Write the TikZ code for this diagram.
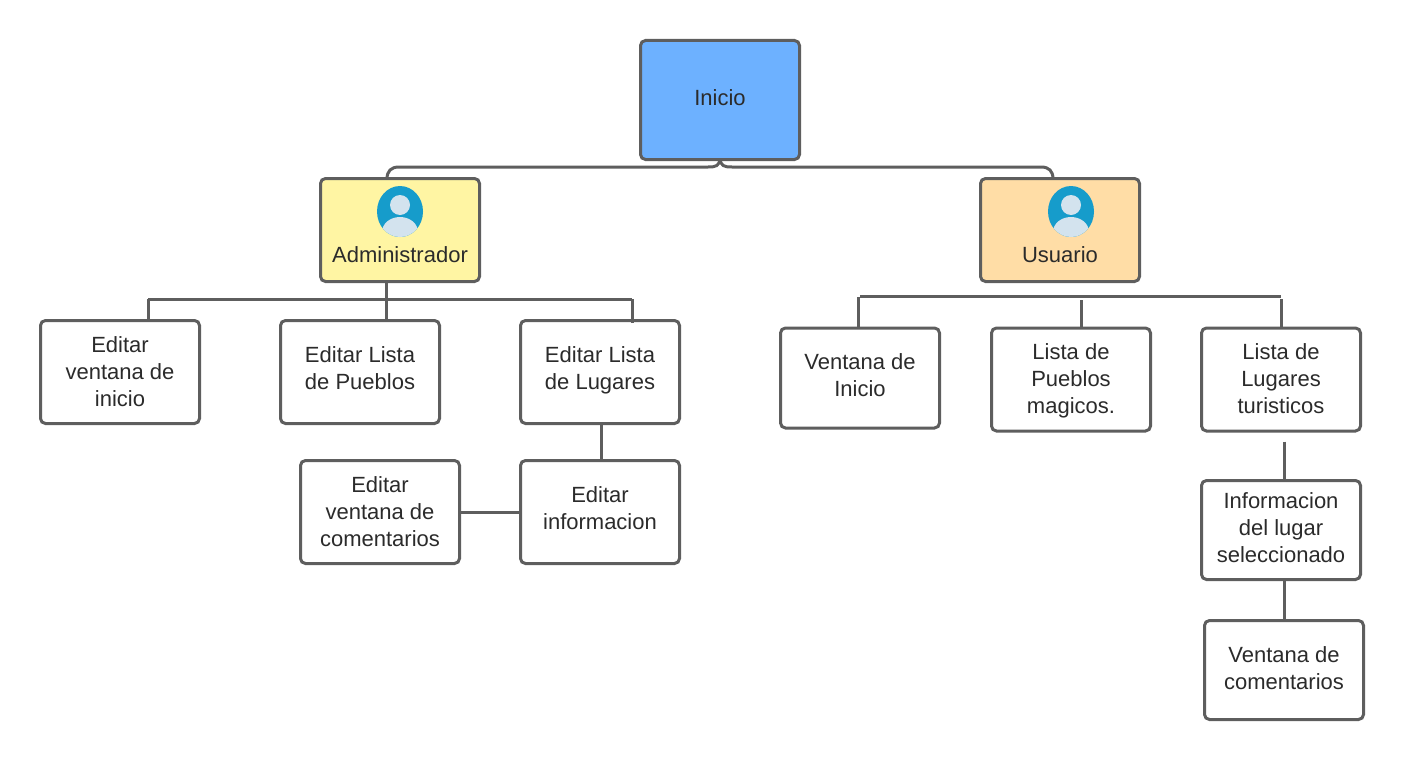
\documentclass[tikz,border=0pt]{standalone}
\usepackage{fontspec}
\setmainfont{Liberation Sans}
\usetikzlibrary{positioning}
\definecolor{linegray}{HTML}{5E5E5E}
\definecolor{textgray}{HTML}{2B2B2B}
\definecolor{inicioblue}{HTML}{6DB1FF}
\definecolor{adminyellow}{HTML}{FFF5A3}
\definecolor{userorange}{HTML}{FFDDA6}
\definecolor{avatarblue}{HTML}{169CCB}
\definecolor{avatarlight}{HTML}{D3E3EE}
\tikzset{
  box/.style={draw=linegray,line width=3pt,rounded corners=5pt,fill=white,
    minimum width=159pt,minimum height=103pt,inner sep=0pt,align=center,
    text=textgray,font=\fontsize{22}{27}\selectfont,text depth=1.2pt},
  caption/.style={inner sep=0pt,text=textgray,font=\fontsize{22}{27}\selectfont},
  link/.style={draw=linegray,line width=3pt},
}
\begin{document}
\begin{tikzpicture}[x=1pt,y=-1pt]
  \useasboundingbox (0,0) rectangle (1405,760);

  % connectors first, the boxes sit on top
  \coordinate (busA) at (386,299);
  \coordinate (busAl) at (148,299);
  \coordinate (busAr) at (632,299);
  \coordinate (busU) at (858,297);
  \coordinate (busUl) at (860,296);
  \coordinate (busUm) at (1081,300);
  \coordinate (busUr) at (1281,296);
  \coordinate (busUt) at (1281,299);
  \coordinate (top) at (720,159);
  \coordinate (downA) at (387,179);
  \coordinate (downU) at (1053,179);

  \draw[link] (top) .. controls (719,166) and (716,167) .. (708,167)
    -- (399,167) .. controls (391,167) and (387,171) .. (downA);
  \draw[link] (top) .. controls (721,166) and (724,167) .. (732,167)
    -- (1041,167) .. controls (1049,167) and (1053,171) .. (downU);

  \node[box,text height=28pt,text depth=17pt,fill=inicioblue,minimum height=119pt] (inicio) at (720,100) {Inicio};
  \node[box,fill=adminyellow] (admin) at (400,230) {};
  \node[box,fill=userorange] (usuario) at (1060,230) {};
  \node[caption] (admintext) at (400,255) {Administrador};
  \node[caption] (usertext) at (1060,255) {Usuario};

  \foreach \n/\x in {a/400,u/1071}{
    \begin{scope}
      \clip (\x,211.5) ellipse [x radius=23,y radius=25.5];
      \fill[avatarblue] (\x-25,184) rectangle (\x+25,239);
      \fill[avatarlight] (\x,205) circle (10);
      \fill[avatarlight] (\x,232) ellipse [x radius=18,y radius=15];
    \end{scope}
  }

  \node[box] (edit1) at (120,372) {Editar\\ventana de\\inicio};
  \node[box,text depth=7pt] (edit2) at (360,372) {Editar Lista\\de Pueblos};
  \node[box,text depth=7pt] (edit3) at (600,372) {Editar Lista\\de Lugares};
  \node[box] (edit4) at (380,512) {Editar\\ventana de\\comentarios};
  \node[box,text depth=7pt] (edit5) at (600,512) {Editar\\informacion};

  \node[box,text depth=6pt,minimum height=100pt] (user1) at (860,378) {Ventana de\\Inicio};
  \node[box] (user2) at (1071,379.5) {Lista de\\Pueblos\\magicos.};
  \node[box] (user3) at (1281,379.5) {Lista de\\Lugares\\turisticos};
  \node[box,text depth=5pt,minimum height=99pt] (user4) at (1281,530) {Informacion\\del lugar\\seleccionado};
  \node[box,text depth=3pt,minimum height=99pt] (user5) at (1284,670) {Ventana de\\comentarios};

  \draw[link] (busAl) -- (busAr);
  \draw[link] (busAl) -- (busAl |- edit1.north);
  \draw[link] (busA |- admin.south) -- ([yshift=-3pt]busA |- edit2.north);
  \draw[link] (busAr) -- ([yshift=-4pt]busAr |- edit3.north);
  \draw[link] ([xshift=1pt]edit3.south) -- ([xshift=1pt,yshift=-3pt]edit5.north);
  \draw[link] (edit4.east) -- (edit5.west);

  \draw[link] (busUl) -- (busUr);
  \draw[link] (busU) -- (busU |- user1.north);
  \draw[link] (busUm) -- ([yshift=-2pt]busUm |- user2.north);
  \draw[link] (busUt) -- ([yshift=-2pt]busUt |- user3.north);
  \draw[link] ([xshift=3pt,yshift=-9pt]user3.south) -- ([xshift=3pt]user4.north);
  \draw[link] ([xshift=3pt]user4.south) -- (user5.north);
\end{tikzpicture}
\end{document}
